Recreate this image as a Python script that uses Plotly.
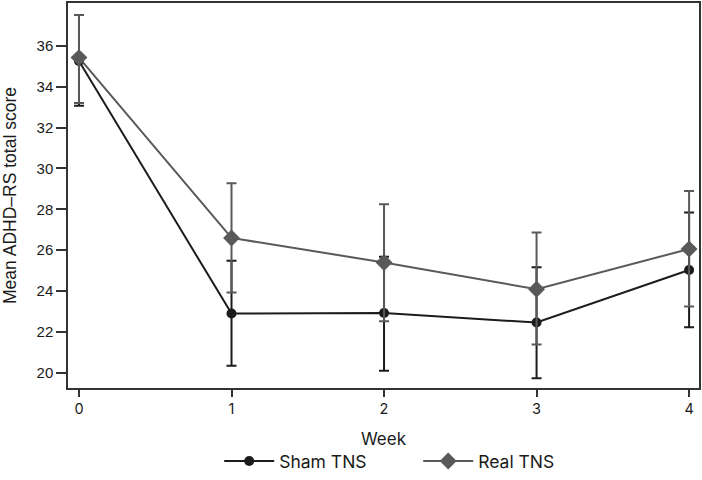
import plotly.graph_objects as go

weeks = [0, 1, 2, 3, 4]
week_labels = ["0", "1", "2", "3", "4"]

sham_mean = [35.25, 22.9, 22.93, 22.46, 25.03]
sham_err_plus = [2.25, 2.58, 2.75, 2.7, 2.81]
sham_err_minus = [2.18, 2.55, 2.83, 2.72, 2.8]

real_mean = [35.42, 26.6, 25.4, 24.09, 26.06]
real_err_plus = [2.08, 2.67, 2.85, 2.77, 2.84]
real_err_minus = [2.22, 2.67, 2.88, 2.7, 2.81]

y_ticks = [20, 22, 24, 26, 28, 30, 32, 34, 36]

FONT = "Inter, Liberation Sans, sans-serif"
HELV = "Liberation Sans, Arial, sans-serif"
SHAM_C = "#1c1c1c"
REAL_C = "#595959"

fig = go.Figure()
fig.add_trace(go.Scatter(
    x=weeks, y=sham_mean, name="Sham TNS", mode="lines+markers",
    line=dict(color=SHAM_C, width=2),
    marker=dict(symbol="circle", size=10, color=SHAM_C),
    error_y=dict(type="data", symmetric=False, array=sham_err_plus,
                 arrayminus=sham_err_minus, color=SHAM_C, thickness=2, width=5),
))
fig.add_trace(go.Scatter(
    x=weeks, y=real_mean, name="Real TNS", mode="lines+markers",
    line=dict(color=REAL_C, width=2),
    marker=dict(symbol="diamond", size=13, color=REAL_C),
    error_y=dict(type="data", symmetric=False, array=real_err_plus,
                 arrayminus=real_err_minus, color=REAL_C, thickness=2, width=5),
))

fig.update_layout(
    width=702, height=480,
    margin=dict(l=68, r=1, t=1, b=91),
    paper_bgcolor="white", plot_bgcolor="white",
    font=dict(family=FONT, size=14, color="#1a1a1a"),
    showlegend=True,
    legend=dict(orientation="h", x=0.555, xanchor="center", y=-0.19, yanchor="middle",
                font=dict(size=17.5), itemwidth=50, entrywidth=134, traceorder="normal"),
    xaxis=dict(range=[-0.072, 4.065], tickmode="array", tickvals=weeks, ticktext=week_labels,
               showgrid=False, zeroline=False, showline=True, linecolor="#333", linewidth=1.5,
               mirror=True, ticks="outside", ticklen=7, tickcolor="#333", tickwidth=1.5,
               tickfont=dict(size=14.5),
               title=dict(text="Week", font=dict(size=17), standoff=17)),
    yaxis=dict(range=[19.26, 38.09], tickmode="array", tickvals=y_ticks,
               showgrid=False, zeroline=False, showline=True, linecolor="#333", linewidth=1.5,
               mirror=True, ticks="outside", ticklen=10, tickcolor="#333", tickwidth=1.5,
               tickfont=dict(family=HELV, size=15),
               title=dict(text="Mean ADHD–RS total score", font=dict(family=HELV, size=17.5),
                          standoff=19)),
)

fig.write_html("out.html")
